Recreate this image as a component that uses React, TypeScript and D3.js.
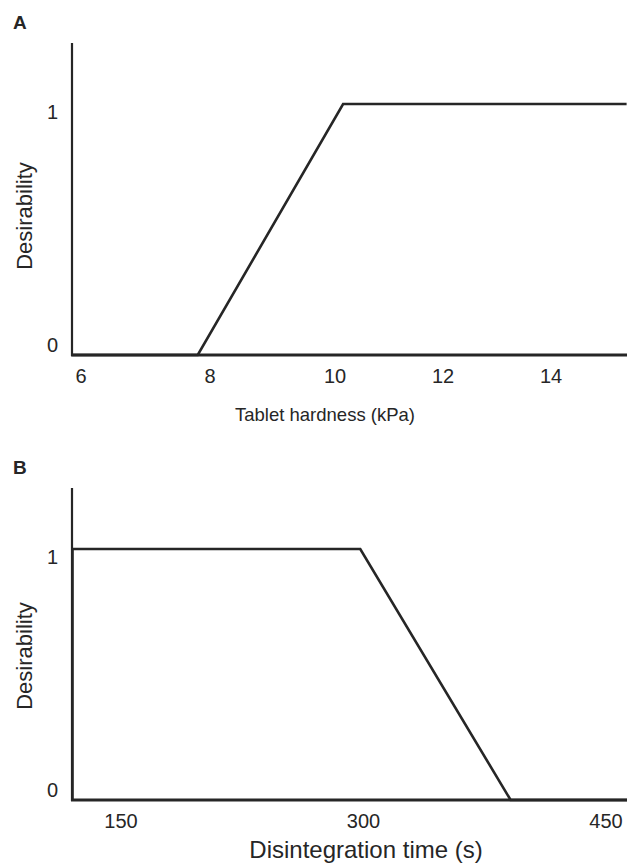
import React from "react";
import * as d3 from "d3";

// Panel A: tablet hardness
const hardnessTicks = [6, 8, 10, 12, 14];
const hardnessX = [5.86, 7.81, 10.15, 15.4];
const hardnessY = [0, 0, 1, 1];

// Panel B: disintegration time
const timeTicks = [150, 300, 450];
const timeX = [120, 120, 298, 391, 463];
const timeY = [0, 1, 1, 0, 0];

const yTicks = [0, 1];

const FONT = "'Liberation Sans', Arial, Helvetica, sans-serif";
const INK = "#262626";

type PanelProps = {
  label: string;
  top: number;
  xScale: d3.ScaleLinear<number, number>;
  xTicks: number[];
  xs: number[];
  ys: number[];
  xTitle: string;
  xTitleX: number;
  xTitleY: number;
  xTitleSize: number;
  yTitleY: number;
};

function Panel(p: PanelProps) {
  const axisTop = p.top;
  const y = d3.scaleLinear().domain([0, 1.243]).range([p.top + 312, p.top]);
  const pts: [number, number][] = p.xs.map((v, i) => [p.xScale(v), y(p.ys[i])]);
  const line = d3.line<[number, number]>().x((d) => d[0]).y((d) => d[1]);
  const yBase = y(0);
  return (
    <g>
      <text x={13} y={axisTop - 14} fontFamily={FONT} fontWeight="bold" fontSize={19} fill={INK}>
        {p.label}
      </text>
      <line x1={72} x2={72} y1={axisTop} y2={yBase + 1} stroke={INK} strokeWidth={2.2} />
      <line x1={71} x2={627} y1={yBase} y2={yBase} stroke={INK} strokeWidth={2.8} />
      <path d={line(pts) || ""} fill="none" stroke={INK} strokeWidth={2.6} strokeLinejoin="miter" />
      {yTicks.map((t) => (
        <text key={t} x={58} y={y(t) + (t === 1 ? 15 : -3)} textAnchor="end" fontFamily={FONT} fontSize={20} fill={INK}>
          {t}
        </text>
      ))}
      {p.xTicks.map((t) => (
        <text key={t} x={p.xScale(t)} y={yBase + 28} textAnchor="middle" fontFamily={FONT} fontSize={20} fill={INK}>
          {t}
        </text>
      ))}
      <text x={p.xTitleX} y={p.xTitleY} textAnchor="middle" fontFamily={FONT} fontSize={p.xTitleSize} fill={INK}>
        {p.xTitle}
      </text>
      <text
        transform={`translate(32,${p.yTitleY}) rotate(-90)`}
        textAnchor="middle"
        fontFamily={FONT}
        fontSize={22}
        fill={INK}
      >
        Desirability
      </text>
    </g>
  );
}

export default function App() {
  const xA = d3.scaleLinear().domain([6, 8, 10, 14]).range([81, 210, 335, 551]);
  const xB = d3.scaleLinear().domain([150, 450]).range([121, 606]);
  return (
    <svg width={627} height={867} style={{ position: "absolute", left: 0, top: 0, background: "#fff" }}>
      <Panel
        label="A"
        top={43}
        xScale={xA}
        xTicks={hardnessTicks}
        xs={hardnessX}
        ys={hardnessY}
        xTitle="Tablet hardness (kPa)"
        xTitleX={325}
        xTitleY={421}
        xTitleSize={18.5}
        yTitleY={216}
      />
      <Panel
        label="B"
        top={488}
        xScale={xB}
        xTicks={timeTicks}
        xs={timeX}
        ys={timeY}
        xTitle="Disintegration time (s)"
        xTitleX={366}
        xTitleY={858}
        xTitleSize={24}
        yTitleY={656}
      />
    </svg>
  );
}
